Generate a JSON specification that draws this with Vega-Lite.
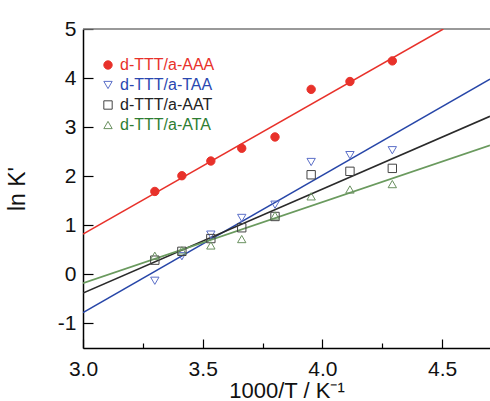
{
  "$schema": "https://vega.github.io/schema/vega-lite/v6.json",
  "width": 407,
  "height": 319,
  "autosize": {"type": "none"},
  "padding": {"left": 83, "top": 29, "right": 0, "bottom": 53},
  "background": "white",
  "config": {
    "view": {"stroke": null},
    "font": "Liberation Sans",
    "axis": {
      "grid": false,
      "domainColor": "#000",
      "domainWidth": 1.5,
      "tickColor": "#000",
      "tickWidth": 1.2,
      "labelFont": "Liberation Sans",
      "labelFontSize": 21,
      "labelColor": "#111",
      "labelFlush": false,
      "titleFont": "Liberation Sans",
      "titleFontSize": 22,
      "titleFontWeight": "normal",
      "titleColor": "#111"
    }
  },
  "datasets": {
    "points": [
      {"series": "d-TTT/a-AAA", "x": 3.300, "y": 1.69},
      {"series": "d-TTT/a-AAA", "x": 3.413, "y": 2.01},
      {"series": "d-TTT/a-AAA", "x": 3.534, "y": 2.31},
      {"series": "d-TTT/a-AAA", "x": 3.663, "y": 2.57},
      {"series": "d-TTT/a-AAA", "x": 3.802, "y": 2.80},
      {"series": "d-TTT/a-AAA", "x": 3.953, "y": 3.77},
      {"series": "d-TTT/a-AAA", "x": 4.115, "y": 3.93},
      {"series": "d-TTT/a-AAA", "x": 4.292, "y": 4.35},
      {"series": "d-TTT/a-TAA", "x": 3.300, "y": -0.13},
      {"series": "d-TTT/a-TAA", "x": 3.413, "y": 0.37},
      {"series": "d-TTT/a-TAA", "x": 3.534, "y": 0.81},
      {"series": "d-TTT/a-TAA", "x": 3.663, "y": 1.15},
      {"series": "d-TTT/a-TAA", "x": 3.802, "y": 1.42},
      {"series": "d-TTT/a-TAA", "x": 3.953, "y": 2.29},
      {"series": "d-TTT/a-TAA", "x": 4.115, "y": 2.43},
      {"series": "d-TTT/a-TAA", "x": 4.292, "y": 2.53},
      {"series": "d-TTT/a-AAT", "x": 3.300, "y": 0.29},
      {"series": "d-TTT/a-AAT", "x": 3.413, "y": 0.47},
      {"series": "d-TTT/a-AAT", "x": 3.534, "y": 0.73},
      {"series": "d-TTT/a-AAT", "x": 3.663, "y": 0.95},
      {"series": "d-TTT/a-AAT", "x": 3.802, "y": 1.18},
      {"series": "d-TTT/a-AAT", "x": 3.953, "y": 2.03},
      {"series": "d-TTT/a-AAT", "x": 4.115, "y": 2.10},
      {"series": "d-TTT/a-AAT", "x": 4.292, "y": 2.16},
      {"series": "d-TTT/a-ATA", "x": 3.300, "y": 0.38},
      {"series": "d-TTT/a-ATA", "x": 3.413, "y": 0.49},
      {"series": "d-TTT/a-ATA", "x": 3.534, "y": 0.59},
      {"series": "d-TTT/a-ATA", "x": 3.663, "y": 0.72},
      {"series": "d-TTT/a-ATA", "x": 3.802, "y": 1.20},
      {"series": "d-TTT/a-ATA", "x": 3.953, "y": 1.59},
      {"series": "d-TTT/a-ATA", "x": 4.115, "y": 1.73},
      {"series": "d-TTT/a-ATA", "x": 4.292, "y": 1.84}
    ],
    "fits": [
      {"fit": "AAA", "x": 3.0, "y": 0.82},
      {"fit": "AAA", "x": 4.505, "y": 5.0},
      {"fit": "TAA", "x": 3.0, "y": -0.78},
      {"fit": "TAA", "x": 4.7, "y": 3.98},
      {"fit": "AAT", "x": 3.0, "y": -0.38},
      {"fit": "AAT", "x": 4.7, "y": 3.22},
      {"fit": "ATA", "x": 3.0, "y": -0.18},
      {"fit": "ATA", "x": 4.7, "y": 2.63}
    ],
    "frame": [{"top": 5}]
  },
  "layer": [
    {
      "data": {"name": "frame"},
      "mark": {"type": "rule", "color": "#777", "strokeWidth": 1.5},
      "encoding": {"y": {"field": "top", "type": "quantitative"}}
    },
    {
      "data": {"name": "fits"},
      "mark": {"type": "line", "clip": true},
      "encoding": {
        "x": {
          "field": "x", "type": "quantitative",
          "scale": {"domain": [3.0, 4.7], "nice": false, "zero": false},
          "axis": {
            "title": "1000/T / K⁻¹",
            "values": [3.0, 3.25, 3.5, 3.75, 4.0, 4.25, 4.5],
            "labelExpr": "abs(round(datum.value*2) - datum.value*2) < 0.01 ? format(datum.value, '.1f') : ''",
            "tickSize": {"condition": {"test": "abs(round(datum.value*2) - datum.value*2) < 0.01", "value": -9}, "value": -5},
            "labelPadding": 19,
            "titlePadding": 1
          }
        },
        "y": {
          "field": "y", "type": "quantitative",
          "scale": {"domain": [-1.5, 5], "nice": false, "zero": false},
          "axis": {
            "title": "ln K'",
            "values": [-1, -0.5, 0, 0.5, 1, 1.5, 2, 2.5, 3, 3.5, 4, 4.5, 5],
            "labelExpr": "abs(round(datum.value) - datum.value) < 0.01 ? '' + round(datum.value) : ''",
            "tickSize": {"condition": {"test": "abs(round(datum.value) - datum.value) < 0.01", "value": -10}, "value": -5},
            "labelPadding": 17,
            "titlePadding": 28,
            "titleFontSize": 23
          }
        },
        "detail": {"field": "fit"},
        "color": {
          "field": "fit", "type": "nominal", "legend": null,
          "scale": {
            "domain": ["AAA", "TAA", "AAT", "ATA"],
            "range": ["#e8312a", "#2746a8", "#2a2a2a", "#6a9a5e"]
          }
        },
        "strokeWidth": {
          "field": "fit", "type": "nominal", "legend": null,
          "scale": {
            "domain": ["AAA", "TAA", "AAT", "ATA"],
            "range": [1.5, 1.7, 0.7, 0.7]
          }
        }
      }
    },
    {
      "data": {"name": "points"},
      "mark": {"type": "point", "filled": true, "size": 70, "strokeWidth": 1, "opacity": 1},
      "encoding": {
        "x": {"field": "x", "type": "quantitative"},
        "y": {"field": "y", "type": "quantitative"},
        "shape": {
          "field": "series", "type": "nominal",
          "scale": {
            "domain": ["d-TTT/a-AAA", "d-TTT/a-TAA", "d-TTT/a-AAT", "d-TTT/a-ATA"],
            "range": ["circle", "triangle-down", "square", "triangle-up"]
          },
          "legend": {
            "title": null,
            "orient": "none",
            "legendX": 17,
            "legendY": 28,
            "symbolSize": 70,
            "symbolStrokeWidth": 1,
            "labelFont": "Liberation Sans",
            "labelFontSize": 16,
            "labelOffset": 4,
            "rowPadding": 4,
            "labelColor": {"expr": "datum.value === 'd-TTT/a-AAA' ? '#e8312a' : datum.value === 'd-TTT/a-TAA' ? '#2a47b0' : datum.value === 'd-TTT/a-AAT' ? '#222222' : '#2e7d32'"}
          }
        },
        "stroke": {
          "field": "series", "type": "nominal",
          "scale": {
            "domain": ["d-TTT/a-AAA", "d-TTT/a-TAA", "d-TTT/a-AAT", "d-TTT/a-ATA"],
            "range": ["#e8312a", "#5b6fc8", "#444444", "#6a9160"]
          }
        },
        "fill": {
          "field": "series", "type": "nominal",
          "scale": {
            "domain": ["d-TTT/a-AAA", "d-TTT/a-TAA", "d-TTT/a-AAT", "d-TTT/a-ATA"],
            "range": ["#e8312a", "transparent", "transparent", "transparent"]
          }
        }
      }
    }
  ]
}
